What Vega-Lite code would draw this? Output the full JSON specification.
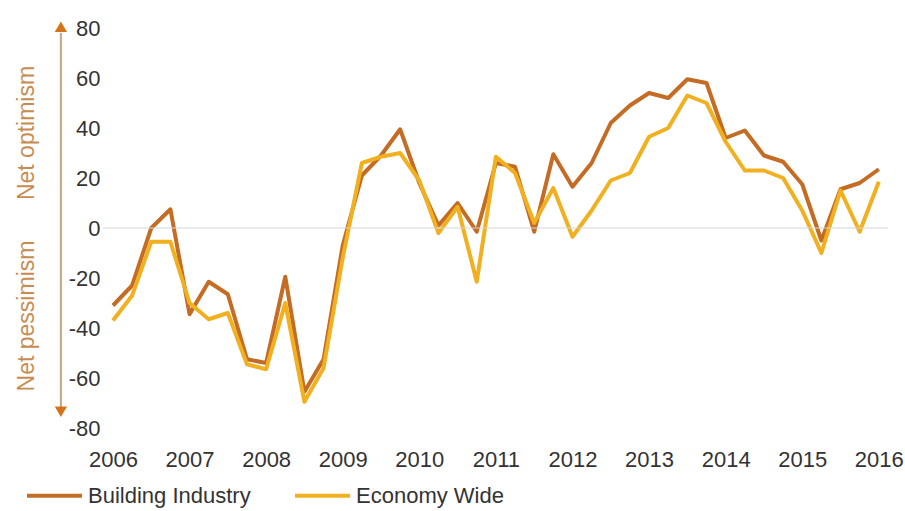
{
  "$schema": "https://vega.github.io/schema/vega-lite/v6.json",
  "width": 785,
  "height": 400,
  "autosize": {"type": "none"},
  "padding": {"left": 103, "top": 28, "right": 17, "bottom": 83},
  "background": "white",
  "config": {"view": {"stroke": null}, "font": "Liberation Sans"},
  "datasets": {
    "sentiment": [
      {"t": 2006.00, "series": "Building Industry", "v": -31}, {"t": 2006.00, "series": "Economy Wide", "v": -37},
      {"t": 2006.25, "series": "Building Industry", "v": -23}, {"t": 2006.25, "series": "Economy Wide", "v": -27},
      {"t": 2006.50, "series": "Building Industry", "v": 0}, {"t": 2006.50, "series": "Economy Wide", "v": -5.5},
      {"t": 2006.75, "series": "Building Industry", "v": 7.5}, {"t": 2006.75, "series": "Economy Wide", "v": -5.5},
      {"t": 2007.00, "series": "Building Industry", "v": -34.5}, {"t": 2007.00, "series": "Economy Wide", "v": -30},
      {"t": 2007.25, "series": "Building Industry", "v": -21.5}, {"t": 2007.25, "series": "Economy Wide", "v": -36.5},
      {"t": 2007.50, "series": "Building Industry", "v": -26.5}, {"t": 2007.50, "series": "Economy Wide", "v": -34},
      {"t": 2007.75, "series": "Building Industry", "v": -52.5}, {"t": 2007.75, "series": "Economy Wide", "v": -54.5},
      {"t": 2008.00, "series": "Building Industry", "v": -54}, {"t": 2008.00, "series": "Economy Wide", "v": -56.5},
      {"t": 2008.25, "series": "Building Industry", "v": -19.5}, {"t": 2008.25, "series": "Economy Wide", "v": -30},
      {"t": 2008.50, "series": "Building Industry", "v": -65.5}, {"t": 2008.50, "series": "Economy Wide", "v": -69.5},
      {"t": 2008.75, "series": "Building Industry", "v": -52.5}, {"t": 2008.75, "series": "Economy Wide", "v": -56},
      {"t": 2009.00, "series": "Building Industry", "v": -7}, {"t": 2009.00, "series": "Economy Wide", "v": -12},
      {"t": 2009.25, "series": "Building Industry", "v": 21}, {"t": 2009.25, "series": "Economy Wide", "v": 26},
      {"t": 2009.50, "series": "Building Industry", "v": 29}, {"t": 2009.50, "series": "Economy Wide", "v": 28.5},
      {"t": 2009.75, "series": "Building Industry", "v": 39.5}, {"t": 2009.75, "series": "Economy Wide", "v": 30},
      {"t": 2010.00, "series": "Building Industry", "v": 18}, {"t": 2010.00, "series": "Economy Wide", "v": 19},
      {"t": 2010.25, "series": "Building Industry", "v": 1}, {"t": 2010.25, "series": "Economy Wide", "v": -2},
      {"t": 2010.50, "series": "Building Industry", "v": 10}, {"t": 2010.50, "series": "Economy Wide", "v": 8.5},
      {"t": 2010.75, "series": "Building Industry", "v": -1.5}, {"t": 2010.75, "series": "Economy Wide", "v": -21.5},
      {"t": 2011.00, "series": "Building Industry", "v": 26}, {"t": 2011.00, "series": "Economy Wide", "v": 28.5},
      {"t": 2011.25, "series": "Building Industry", "v": 24.5}, {"t": 2011.25, "series": "Economy Wide", "v": 22},
      {"t": 2011.50, "series": "Building Industry", "v": -1.5}, {"t": 2011.50, "series": "Economy Wide", "v": 2},
      {"t": 2011.75, "series": "Building Industry", "v": 29.5}, {"t": 2011.75, "series": "Economy Wide", "v": 16},
      {"t": 2012.00, "series": "Building Industry", "v": 16.5}, {"t": 2012.00, "series": "Economy Wide", "v": -3.5},
      {"t": 2012.25, "series": "Building Industry", "v": 26}, {"t": 2012.25, "series": "Economy Wide", "v": 7},
      {"t": 2012.50, "series": "Building Industry", "v": 42}, {"t": 2012.50, "series": "Economy Wide", "v": 19},
      {"t": 2012.75, "series": "Building Industry", "v": 49}, {"t": 2012.75, "series": "Economy Wide", "v": 22},
      {"t": 2013.00, "series": "Building Industry", "v": 54}, {"t": 2013.00, "series": "Economy Wide", "v": 36.5},
      {"t": 2013.25, "series": "Building Industry", "v": 52}, {"t": 2013.25, "series": "Economy Wide", "v": 40},
      {"t": 2013.50, "series": "Building Industry", "v": 59.5}, {"t": 2013.50, "series": "Economy Wide", "v": 53},
      {"t": 2013.75, "series": "Building Industry", "v": 58}, {"t": 2013.75, "series": "Economy Wide", "v": 50},
      {"t": 2014.00, "series": "Building Industry", "v": 36}, {"t": 2014.00, "series": "Economy Wide", "v": 34.5},
      {"t": 2014.25, "series": "Building Industry", "v": 39}, {"t": 2014.25, "series": "Economy Wide", "v": 23},
      {"t": 2014.50, "series": "Building Industry", "v": 29}, {"t": 2014.50, "series": "Economy Wide", "v": 23},
      {"t": 2014.75, "series": "Building Industry", "v": 26.5}, {"t": 2014.75, "series": "Economy Wide", "v": 20},
      {"t": 2015.00, "series": "Building Industry", "v": 17.5}, {"t": 2015.00, "series": "Economy Wide", "v": 7},
      {"t": 2015.25, "series": "Building Industry", "v": -5}, {"t": 2015.25, "series": "Economy Wide", "v": -10},
      {"t": 2015.50, "series": "Building Industry", "v": 15.5}, {"t": 2015.50, "series": "Economy Wide", "v": 15},
      {"t": 2015.75, "series": "Building Industry", "v": 18}, {"t": 2015.75, "series": "Economy Wide", "v": -1.5},
      {"t": 2016.00, "series": "Building Industry", "v": 23.5}, {"t": 2016.00, "series": "Economy Wide", "v": 18.5}
    ],
    "one": [{}]
  },
  "layer": [
    {
      "data": {"name": "sentiment"},
      "mark": {"type": "line", "strokeWidth": 4, "strokeJoin": "round"},
      "encoding": {
        "x": {
          "field": "t", "type": "quantitative",
          "scale": {"domain": [2005.87, 2016.12], "nice": false, "zero": false},
          "axis": {
            "values": [2006, 2007, 2008, 2009, 2010, 2011, 2012, 2013, 2014, 2015, 2016],
            "format": "d", "title": null, "domain": false, "ticks": false, "grid": false,
            "labelFontSize": 22, "labelColor": "#333333", "labelPadding": 21,
            "labelFlush": false, "labelOverlap": false
          }
        },
        "y": {
          "field": "v", "type": "quantitative",
          "scale": {"domain": [-80, 80], "nice": false},
          "axis": {
            "values": [-80, -60, -40, -20, 0, 20, 40, 60, 80],
            "labelExpr": "'' + datum.value",
            "title": null, "domain": false, "ticks": false, "grid": false,
            "labelFontSize": 22, "labelColor": "#333333", "labelPadding": 3
          }
        },
        "color": {
          "field": "series", "type": "nominal",
          "scale": {"domain": ["Building Industry", "Economy Wide"], "range": ["#C46C24", "#F0B020"]},
          "legend": {
            "orient": "none", "legendX": -78, "legendY": 438, "direction": "horizontal",
            "title": null, "symbolType": "stroke", "symbolSize": 3025, "symbolStrokeWidth": 4,
            "labelFontSize": 22, "labelColor": "#333333", "labelOffset": 4, "labelLimit": 400,
            "columnPadding": 36, "padding": 0
          }
        }
      }
    },
    {
      "data": {"name": "one"},
      "mark": {"type": "rule", "color": "#d6d6d6", "strokeWidth": 1.2},
      "encoding": {"y": {"datum": 0, "type": "quantitative"}}
    },
    {
      "data": {"name": "one"},
      "mark": {"type": "rule", "color": "#C9A27E", "strokeWidth": 2},
      "encoding": {
        "x": {"datum": 2005.32, "type": "quantitative"},
        "y": {"datum": 78, "type": "quantitative"},
        "y2": {"datum": -72}
      }
    },
    {
      "data": {"name": "one"},
      "mark": {"type": "point", "shape": "triangle-up", "filled": true, "color": "#D4741A", "opacity": 1, "size": 150},
      "encoding": {
        "x": {"datum": 2005.32, "type": "quantitative"},
        "y": {"datum": 80.5, "type": "quantitative"}
      }
    },
    {
      "data": {"name": "one"},
      "mark": {"type": "point", "shape": "triangle-down", "filled": true, "color": "#D4741A", "opacity": 1, "size": 150},
      "encoding": {
        "x": {"datum": 2005.32, "type": "quantitative"},
        "y": {"datum": -73.5, "type": "quantitative"}
      }
    },
    {
      "data": {"name": "one"},
      "mark": {"type": "text", "angle": 270, "align": "center", "baseline": "middle", "fontSize": 23, "color": "#C88C50"},
      "encoding": {
        "x": {"datum": 2004.88, "type": "quantitative"},
        "y": {"datum": 38, "type": "quantitative"},
        "text": {"value": "Net optimism"}
      }
    },
    {
      "data": {"name": "one"},
      "mark": {"type": "text", "angle": 270, "align": "center", "baseline": "middle", "fontSize": 23, "color": "#C88C50"},
      "encoding": {
        "x": {"datum": 2004.88, "type": "quantitative"},
        "y": {"datum": -35.2, "type": "quantitative"},
        "text": {"value": "Net pessimism"}
      }
    }
  ]
}
